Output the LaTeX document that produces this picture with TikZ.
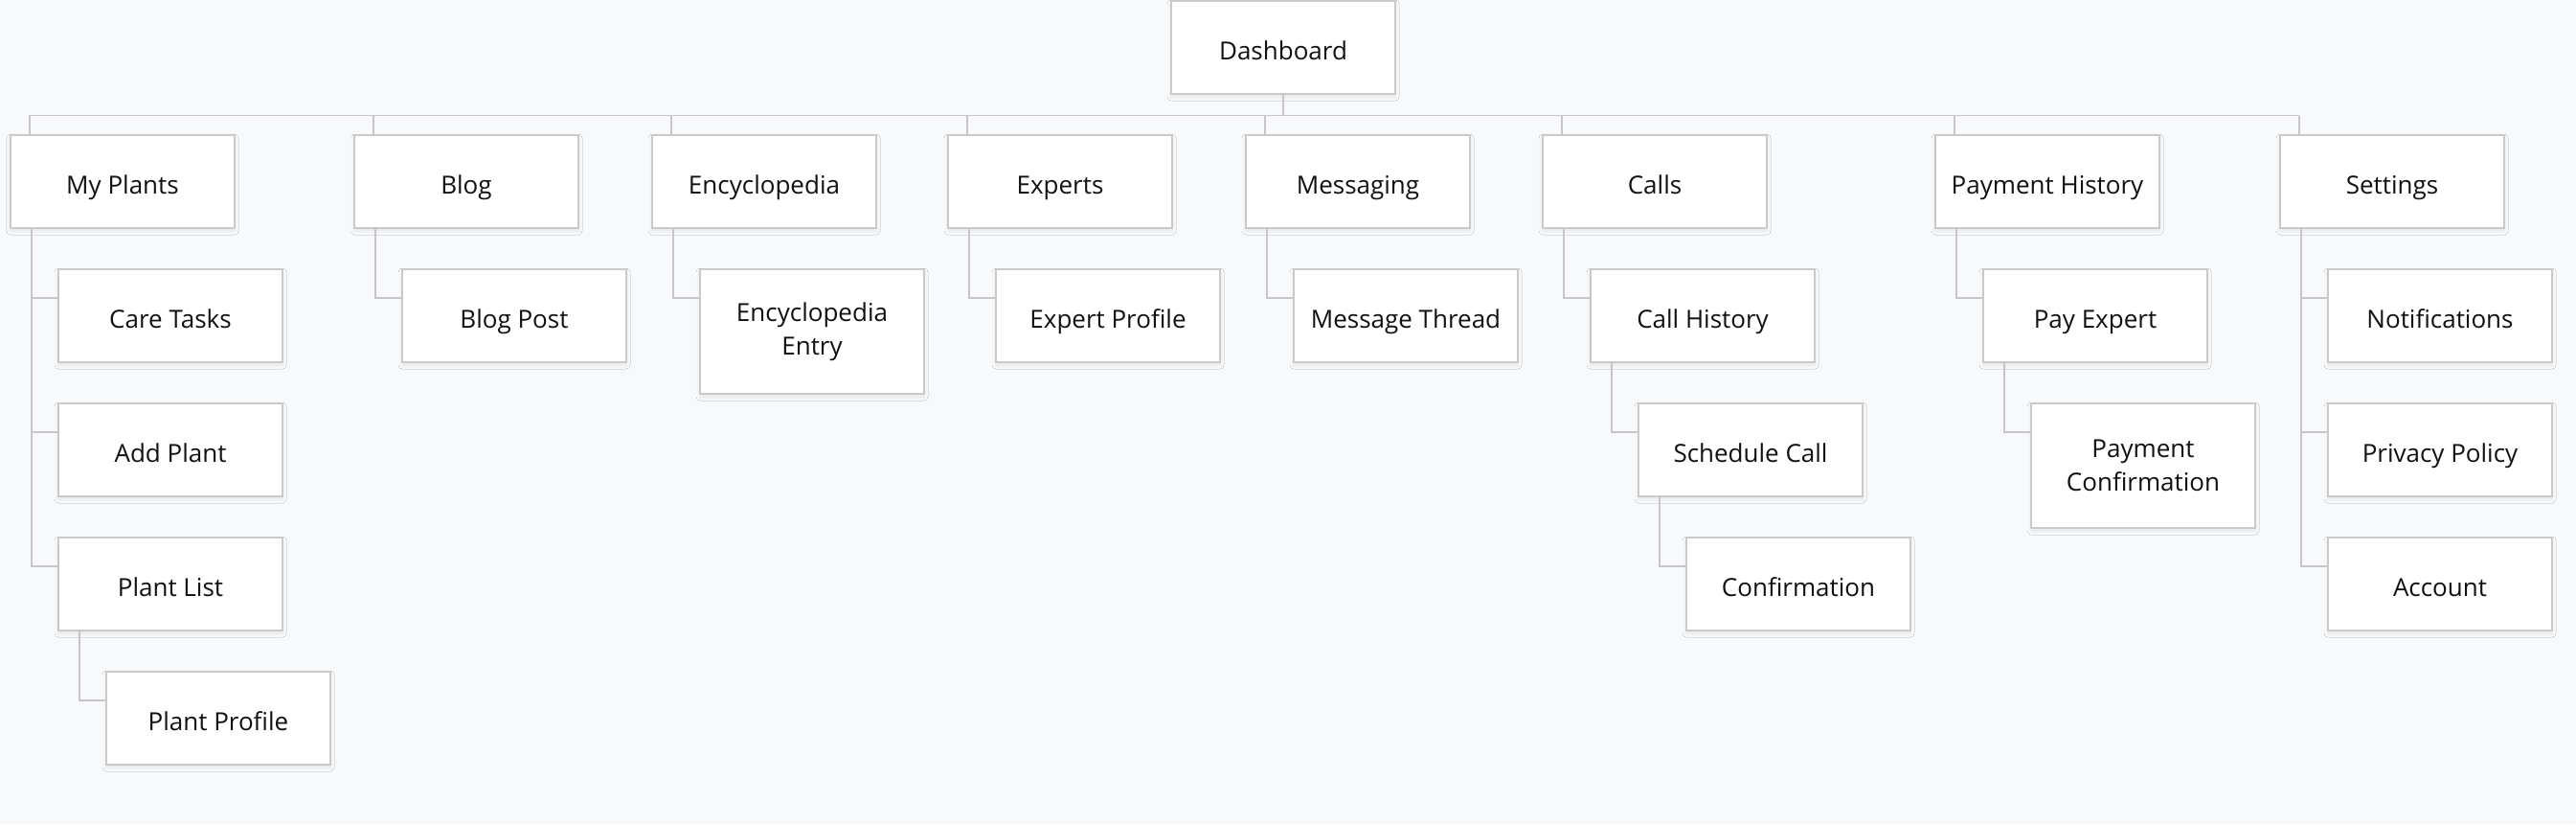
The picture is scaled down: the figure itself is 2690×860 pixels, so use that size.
\documentclass[tikz,border=0pt]{standalone}
\usepackage{fontspec}
\setmainfont{Open Sans}
\usetikzlibrary{shadows.blur}
\definecolor{bgc}{HTML}{F8F9FB}
\definecolor{bordc}{HTML}{CACACA}
\definecolor{linec}{HTML}{C6C6C8}
\definecolor{txtc}{HTML}{111111}
\tikzset{
  pagebox/.style={draw=bordc, line width=1.5pt, fill=white, rectangle,
    anchor=north west, minimum width=234pt, minimum height=97pt,
    inner sep=0pt, outer sep=0pt, align=center, text=txtc,
    text height=25pt, text depth=0pt,
    font=\fontsize{26}{35}\selectfont,
    blur shadow={shadow xshift=0pt, shadow yshift=-3pt, shadow blur radius=4pt, shadow blur steps=8, shadow opacity=8}},
  tallbox/.style={pagebox, minimum height=130pt, text height=, text depth=},
  conn/.style={draw=linec, line width=1.5pt}
}
\begin{document}
\begin{tikzpicture}[x=1pt, y=-1pt]
\fill[bgc] (0,0) rectangle (2690,860);
\useasboundingbox (0,0) rectangle (2690,860);

% root
\node[pagebox] (dash) at (1223,1) {Dashboard};

% top level
\node[pagebox] (mp)    at (11,141)   {My Plants};
\node[pagebox] (blog)  at (370,141)  {Blog};
\node[pagebox] (enc)   at (681,141)  {Encyclopedia};
\node[pagebox] (exp)   at (990,141)  {Experts};
\node[pagebox] (msg)   at (1301,141) {Messaging};
\node[pagebox] (calls) at (1611,141) {Calls};
\node[pagebox] (pay)   at (2021,141) {Payment History};
\node[pagebox] (set)   at (2381,141) {Settings};

% children
\node[pagebox] (care)  at (61,281)  {Care Tasks};
\node[pagebox] (add)   at (61,421)  {Add Plant};
\node[pagebox] (plist) at (61,561)  {Plant List};
\node[pagebox] (pprof) at (111,701) {Plant Profile};
\node[pagebox] (bpost) at (420,281) {Blog Post};
\node[tallbox] (encentry) at (731,281) {Encyclopedia\\Entry};
\node[pagebox] (eprof) at (1040,281) {Expert Profile};
\node[pagebox] (mthread) at (1351,281) {Message Thread};
\node[pagebox] (chist) at (1661,281) {Call History};
\node[pagebox] (sched) at (1711,421) {Schedule Call};
\node[pagebox] (conf)  at (1761,561) {Confirmation};
\node[pagebox] (payexp) at (2071,281) {Pay Expert};
\node[tallbox] (paycon) at (2121,421) {Payment\\Confirmation};
\node[pagebox] (notif) at (2431,281) {Notifications};
\node[pagebox] (priv)  at (2431,421) {Privacy Policy};
\node[pagebox] (acct)  at (2431,561) {Account};

% bus
\coordinate (busR) at (2401,120.5);
\draw[conn] (dash.south) -- (dash.south |- busR);
\foreach \n in {mp,blog,enc,exp,msg,calls,pay,set}
  \draw[conn] ([xshift=20pt]\n.north west) |- (busR);

% child connectors
\foreach \p/\c in {mp/care, mp/add, mp/plist, plist/pprof, blog/bpost,
  enc/encentry, exp/eprof, msg/mthread, calls/chist, chist/sched,
  sched/conf, pay/payexp, payexp/paycon, set/notif, set/priv, set/acct}
  \draw[conn] ([xshift=22pt]\p.south west) |- ([yshift=-30pt]\c.north west);
\end{tikzpicture}
\end{document}
